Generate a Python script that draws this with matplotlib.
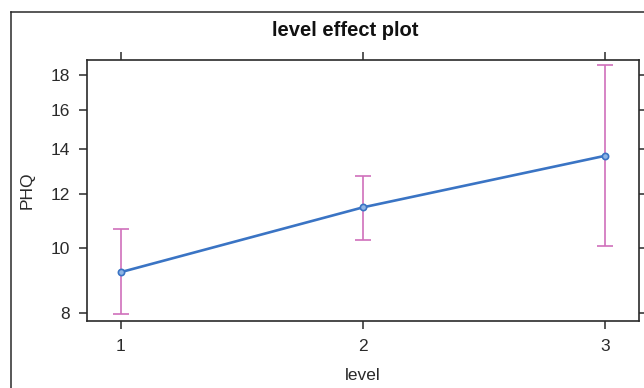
import matplotlib
matplotlib.use('Agg')
import matplotlib.pyplot as plt
from matplotlib.lines import Line2D
from matplotlib.ticker import FixedLocator, NullLocator

plt.rcParams['font.family'] = ['Liberation Sans', 'DejaVu Sans']

levels = [1, 2, 3]
phq_fit = [9.20, 11.47, 13.67]
phq_lower = [7.98, 10.27, 10.07]
phq_upper = [10.65, 12.77, 18.62]
y_ticks = [8, 10, 12, 14, 16, 18]

line_col = '#3a74c4'
bar_col = '#d070bb'
ink = '#2a2a2a'

fig = plt.figure(figsize=(6.44, 3.88), dpi=100)
ax = fig.add_axes([87 / 644, 1 - 321 / 388, 552 / 644, 261 / 388])

err_lo = [f - lo for f, lo in zip(phq_fit, phq_lower)]
err_hi = [hi - f for f, hi in zip(phq_fit, phq_upper)]
ax.errorbar(levels, phq_fit, yerr=[err_lo, err_hi], fmt='none',
            ecolor=bar_col, elinewidth=1.2, capsize=5.5, capthick=1.2, zorder=2)
ax.plot(levels, phq_fit, color=line_col, lw=1.9, marker='o', ms=4.5,
        mfc='#8fb4e4', mec=line_col, mew=1.2, zorder=3)

ax.set_yscale('log')
ax.set_ylim(7.79, 18.94)
ax.set_xlim(0.86, 3.14)
ax.yaxis.set_major_locator(FixedLocator(y_ticks))
ax.yaxis.set_minor_locator(NullLocator())
ax.set_yticklabels([str(t) for t in y_ticks])
ax.set_xticks(levels)
ax.set_xticklabels([str(l) for l in levels])

for s in ax.spines.values():
    s.set_color(ink)
    s.set_linewidth(1.2)
ax.tick_params(axis='both', direction='out', length=6, width=1.1, color=ink,
               labelsize=12.5, labelcolor=ink, pad=6, top=True, right=True)
ax.tick_params(axis='x', pad=7)

ax.set_ylabel('PHQ', fontsize=12.5, color=ink, labelpad=12)
ax.set_xlabel('level', fontsize=12.5, color=ink, labelpad=10)
fig.text(345 / 644, 1 - 31 / 388, 'level effect plot', ha='center', va='center',
         fontsize=14.5, fontweight='bold', color='#111111')

# outer frame (cut off on right and bottom)
fig.add_artist(Line2D([11 / 644, 11 / 644], [0, 1 - 12 / 388], color=ink, lw=1.1,
                      transform=fig.transFigure))
fig.add_artist(Line2D([11 / 644, 1], [1 - 12 / 388, 1 - 12 / 388], color=ink, lw=1.1,
                      transform=fig.transFigure))

fig.savefig('out.png', dpi=100)
